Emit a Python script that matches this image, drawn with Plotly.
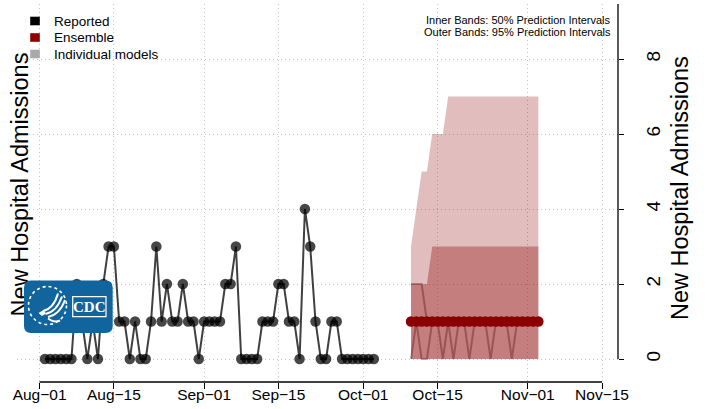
import pandas as pd
import plotly.graph_objects as go

# ---------------------------------------------------------------- data
# Daily reported new hospital admissions, starting 2 Aug
reported_start = "2021-08-02"
reported_admissions = [0, 0, 0, 0, 0, 0, 2, 1, 0, 1, 0, 2, 3, 3, 1, 1, 0, 1, 0, 0,
                       1, 3, 1, 2, 1, 1, 2, 1, 1, 0, 1, 1, 1, 1, 2, 2, 3, 0, 0, 0,
                       0, 1, 1, 1, 2, 2, 1, 1, 0, 4, 3, 1, 0, 0, 1, 1, 0, 0, 0, 0,
                       0, 0, 0]

# Ensemble forecast, 10 Oct - 3 Nov
forecast_start = "2021-10-10"
ensemble_median = [1, 1, 1, 1, 1, 1, 1, 1, 1, 1, 1, 1, 1, 1, 1, 1, 1, 1, 1, 1, 1, 1, 1, 1, 1]
ensemble_lower_95 = [0, 0, 0, 0, 0, 0, 0, 0, 0, 0, 0, 0, 0, 0, 0, 0, 0, 0, 0, 0, 0, 0, 0, 0, 0]
ensemble_upper_95 = [3, 4, 5, 5, 6, 6, 6, 7, 7, 7, 7, 7, 7, 7, 7, 7, 7, 7, 7, 7, 7, 7, 7, 7, 7]
ensemble_lower_50 = [0, 0, 0, 0, 0, 0, 0, 0, 0, 0, 0, 0, 0, 0, 0, 0, 0, 0, 0, 0, 0, 0, 0, 0, 0]
ensemble_upper_50 = [2, 2, 2, 2, 3, 3, 3, 3, 3, 3, 3, 3, 3, 3, 3, 3, 3, 3, 3, 3, 3, 3, 3, 3, 3]

# Individual model medians
model_a = [2, 2, 2, 1, 1, 1, 1, 1, 1, 1, 1, 1, 1, 1, 1, 1, 1, 1, 1, 1, 1, 1, 1, 1, 1]
model_b = [0, 1, 0, 0, 1, 1, 0, 1, 0, 1, 1, 0, 1, 1, 1, 0, 1, 1, 1, 0, 1, 1, 1, 1, 1]

tick_dates = ["2021-08-01", "2021-08-15", "2021-09-01", "2021-09-15",
              "2021-10-01", "2021-10-15", "2021-11-01", "2021-11-15"]
tick_labels = ["Aug\u221201", "Aug\u221215", "Sep\u221201", "Sep\u221215",
               "Oct\u221201", "Oct\u221215", "Nov\u221201", "Nov\u221215"]
y_ticks = [0, 2, 4, 6, 8]

reported_dates = pd.date_range(reported_start, periods=len(reported_admissions), freq="D")
forecast_dates = pd.date_range(forecast_start, periods=len(ensemble_median), freq="D")

# ---------------------------------------------------------------- layout geometry
W, H = 707, 409
L, R, T, B = 17, 89, 4, 27
PW, PH = W - L - R, H - T - B

day_px = 5.306            # horizontal pixels per day
origin = pd.Timestamp(tick_dates[0])
origin_px = 39.6
x_lo = origin - pd.Timedelta(days=(origin_px - L) / day_px)
x_hi = origin + pd.Timedelta(days=(W - R - origin_px) / day_px)

zero_px, unit_px = 359.0, 37.5   # vertical position of 0 and pixels per admission
y_lo = -(H - B - zero_px) / unit_px
y_hi = (zero_px - T) / unit_px

FONT = "Liberation Sans, Arial, sans-serif"
GRID = "#c4c4c4"


def PX(x):
    return (x - L) / PW


def PY(y):
    return (H - B - y) / PH


fig = go.Figure()

# individual model lines (under the bands)
for series in (model_a, model_b):
    fig.add_trace(go.Scatter(x=forecast_dates, y=series, mode="lines",
                             line=dict(color="#aaaaaa", width=2),
                             showlegend=False, hoverinfo="skip"))

# prediction bands
for lo, hi, alpha in ((ensemble_lower_95, ensemble_upper_95, 0.26),
                      (ensemble_lower_50, ensemble_upper_50, 0.33)):
    fig.add_trace(go.Scatter(
        x=list(forecast_dates) + list(forecast_dates[::-1]),
        y=list(hi) + list(lo[::-1]),
        mode="lines", fill="toself", line=dict(width=0),
        fillcolor=f"rgba(139,0,0,{alpha})",
        showlegend=False, hoverinfo="skip"))

# reported data
fig.add_trace(go.Scatter(
    x=reported_dates, y=reported_admissions, mode="lines+markers",
    line=dict(color="rgba(0,0,0,0.75)", width=2),
    marker=dict(color="rgba(0,0,0,0.72)", size=10.5, line=dict(width=0)),
    showlegend=False))

# ensemble median
fig.add_trace(go.Scatter(
    x=forecast_dates, y=ensemble_median, mode="markers",
    marker=dict(color="#8B0000", size=10.5, line=dict(width=0)),
    showlegend=False))

# carrier for the left-hand axis title (drawn beneath the logo)
fig.add_trace(go.Scatter(x=[None], y=[None], yaxis="y2", showlegend=False))

shapes = []
# axis lines in base-graphics style
shapes.append(dict(type="line", xref="x", yref="paper", x0=tick_dates[0], x1=tick_dates[-1],
                   y0=0, y1=0, line=dict(color="black", width=1.3), layer="above"))
shapes.append(dict(type="line", xref="paper", yref="y", x0=1, x1=1, y0=0, y1=y_hi,
                   line=dict(color="black", width=1.3), layer="above"))

# legend keys
legend_items = [("Reported", "black", 21.0),
                ("Ensemble", "#8B0000", 37.5),
                ("Individual models", "#A9A9A9", 54.0)]
for _, col, yc in legend_items:
    shapes.append(dict(type="rect", xref="paper", yref="paper",
                       x0=PX(30.2), x1=PX(39.8), y0=PY(yc - 4.3), y1=PY(yc + 4.3),
                       fillcolor=col, line=dict(width=0), layer="above"))


def rrect(x0, y0, x1, y1, r):
    return (f"M {PX(x0 + r)},{PY(y0)} L {PX(x1 - r)},{PY(y0)} "
            f"Q {PX(x1)},{PY(y0)} {PX(x1)},{PY(y0 + r)} L {PX(x1)},{PY(y1 - r)} "
            f"Q {PX(x1)},{PY(y1)} {PX(x1 - r)},{PY(y1)} L {PX(x0 + r)},{PY(y1)} "
            f"Q {PX(x0)},{PY(y1)} {PX(x0)},{PY(y1 - r)} L {PX(x0)},{PY(y0 + r)} "
            f"Q {PX(x0)},{PY(y0)} {PX(x0 + r)},{PY(y0)} Z")


def curve(points):
    (x0, y0), (x1, y1), (x2, y2), (x3, y3) = points
    return (f"M {PX(x0)},{PY(y0)} C {PX(x1)},{PY(y1)} {PX(x2)},{PY(y2)} "
            f"{PX(x3)},{PY(y3)}")


# CDC badge
BLUE = "#12659c"
shapes.append(dict(type="path", xref="paper", yref="paper", path=rrect(24, 280.5, 112.7, 333, 7),
                   fillcolor=BLUE, line=dict(width=0), layer="above"))
shapes.append(dict(type="circle", xref="paper", yref="paper",
                   x0=PX(28.5), x1=PX(66.5), y0=PY(324.5), y1=PY(286.5),
                   line=dict(color="white", width=1.6, dash="dot"), layer="above"))
for pts in (((43, 311), (50, 309.5), (55, 304), (58, 293.5)),
            ((45.5, 314), (53, 312.5), (58.5, 306.5), (62, 296.5)),
            ((48, 317), (56, 315.5), (61.5, 309.5), (65, 300)),
            ((48, 318.5), (52, 321.5), (56, 322.5), (60, 320.5))):
    shapes.append(dict(type="path", xref="paper", yref="paper", path=curve(pts),
                       line=dict(color="white", width=2), layer="above"))
shapes.append(dict(type="path", xref="paper", yref="paper",
                   path=(f"M {PX(38.5)},{PY(313)} L {PX(43.5)},{PY(310)} L {PX(46)},{PY(313.5)} "
                         f"L {PX(42)},{PY(316)} Z"),
                   fillcolor="white", line=dict(width=0), layer="above"))
shapes.append(dict(type="rect", xref="paper", yref="paper",
                   x0=PX(72.7), x1=PX(106), y0=PY(316.7), y1=PY(296.7),
                   line=dict(color="white", width=1.2), layer="above"))

annotations = []
for label, _, yc in legend_items:
    annotations.append(dict(text=label, xref="paper", yref="paper", x=PX(51.5), y=PY(yc),
                            xanchor="left", yanchor="middle", showarrow=False,
                            font=dict(family=FONT, size=13.5, color="black")))
for text, yc in (("Inner Bands: 50% Prediction Intervals", 20.0),
                 ("Outer Bands: 95% Prediction Intervals", 31.5)):
    annotations.append(dict(text=text, xref="paper", yref="paper", x=PX(612.8), y=PY(yc),
                            xanchor="right", yanchor="middle", showarrow=False,
                            font=dict(family=FONT, size=11, color="black")))
annotations.append(dict(text="New Hospital Admissions", xref="paper", yref="paper",
                        x=PX(680), y=PY(188), textangle=-90, showarrow=False,
                        xanchor="center", yanchor="middle",
                        font=dict(family=FONT, size=23.5, color="black")))
annotations.append(dict(text="<b>CDC</b>", xref="paper", yref="paper",
                        x=PX(89.3), y=PY(306.7), showarrow=False,
                        xanchor="center", yanchor="middle",
                        font=dict(family="Liberation Serif, serif", size=15, color="white")))

title_value = (zero_px - 188) / unit_px

fig.update_layout(
    width=W, height=H,
    margin=dict(l=L, r=R, t=T, b=B, pad=0),
    paper_bgcolor="white", plot_bgcolor="white",
    font=dict(family=FONT, color="black"),
    showlegend=False,
    xaxis=dict(type="date", range=[x_lo, x_hi], tickvals=tick_dates, ticktext=tick_labels,
               ticks="outside", ticklen=6, tickwidth=1.3, tickcolor="black",
               ticklabelstandoff=-8,
               tickfont=dict(family=FONT, size=15.5, color="black"),
               showgrid=True, gridcolor=GRID, griddash="1px,3px", gridwidth=1,
               showline=False, zeroline=False, automargin=False),
    yaxis=dict(side="right", range=[y_lo, y_hi], tickvals=y_ticks,
               ticktext=[str(v) for v in y_ticks], tickangle=-90,
               ticks="outside", ticklen=5, tickwidth=1.3, tickcolor="black",
               ticklabelstandoff=13,
               tickfont=dict(family=FONT, size=19, color="black"),
               showgrid=True, gridcolor=GRID, griddash="1px,3px", gridwidth=1,
               showline=False, zeroline=False, automargin=False),
    yaxis2=dict(overlaying="y", side="left", anchor="free", position=PX(33),
                range=[y_lo, y_hi], tickvals=[title_value],
                ticktext=["New Hospital Admissions"], tickangle=-90, ticks="",
                tickfont=dict(family=FONT, size=23.5, color="black"),
                showgrid=False, zeroline=False, showline=False, automargin=False),
    shapes=shapes,
    annotations=annotations,
)

fig.write_html("out.html", config={"displayModeBar": False})
